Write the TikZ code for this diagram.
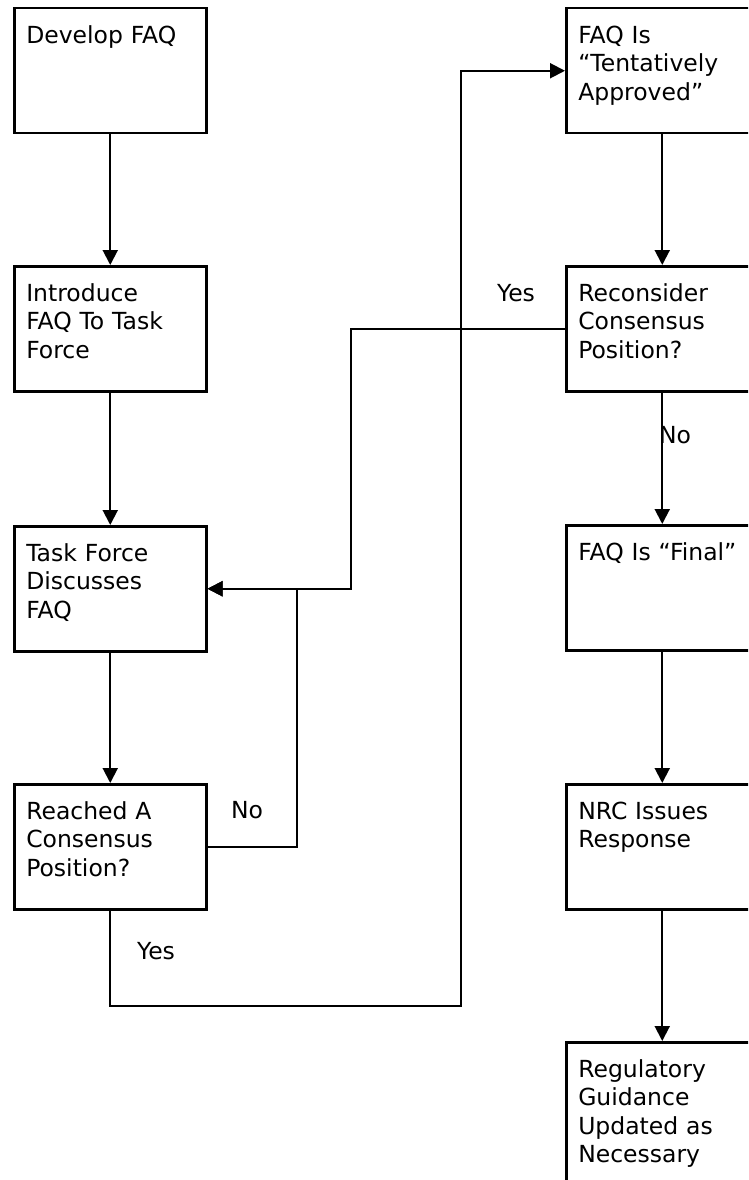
\documentclass[tikz,border=0pt]{standalone}
\usepackage{fontspec}
\setmainfont{DejaVu Sans}
\usetikzlibrary{arrows.meta}
\begin{document}
\begin{tikzpicture}[x=1pt,y=-1pt,
    every node/.style={font=\fontsize{23.5}{28.5}\selectfont},
    stepbox/.style={draw,line width=2.5pt,anchor=north west,align=left,
      text width=168pt,inner xsep=12pt,inner ysep=0pt,
      text height=35pt,text depth=90pt},
    link/.style={line width=2pt,-{Triangle[length=15pt,width=15pt]}}]
  \useasboundingbox (0,0) rectangle (748,1180);
  \clip (0,0) rectangle (748,1180);
  % left column
  \node[stepbox] (dev) at (13,7) {Develop FAQ};
  \node[stepbox] (intro) at (13,265) {Introduce\\FAQ To Task\\Force};
  \node[stepbox] (disc) at (13,525) {Task Force\\Discusses\\FAQ};
  \node[stepbox] (reach) at (13,783) {Reached A\\Consensus\\Position?};
  % right column
  \node[stepbox] (tent) at (565,7) {FAQ Is\\“Tentatively\\Approved”};
  \node[stepbox] (recon) at (565,265) {Reconsider\\Consensus\\Position?};
  \node[stepbox] (final) at (565,524) {FAQ Is “Final”};
  \node[stepbox] (nrc) at (565,783) {NRC Issues\\Response};
  \node[stepbox,text depth=150pt] (reg) at (565,1041) {Regulatory\\Guidance\\Updated as\\Necessary};
  % answers
  \node (no1) at (247,810) {No};
  \node (yes1) at (156,951) {Yes};
  \node (yes2) at (516,293) {Yes};
  \node (no2) at (675,435) {No};
  \coordinate (ybend) at (461,1006);
  \draw[link] (dev) -- (intro);
  \draw[link] (intro) -- (disc);
  \draw[link] (disc) -- (reach);
  \draw[link] (tent) -- (recon);
  \draw[link] (recon) -- (final);
  \draw[link] (final) -- (nrc);
  \draw[link] (nrc) -- (reg);
  \draw[link] (reach.east) -- ++(89,0) |- (disc.east);
  \draw[link] (recon.west) -- ++(-214,0) |- (disc.east);
  \draw[link] (reach.south) |- (ybend) |- (tent.west);
\end{tikzpicture}
\end{document}
